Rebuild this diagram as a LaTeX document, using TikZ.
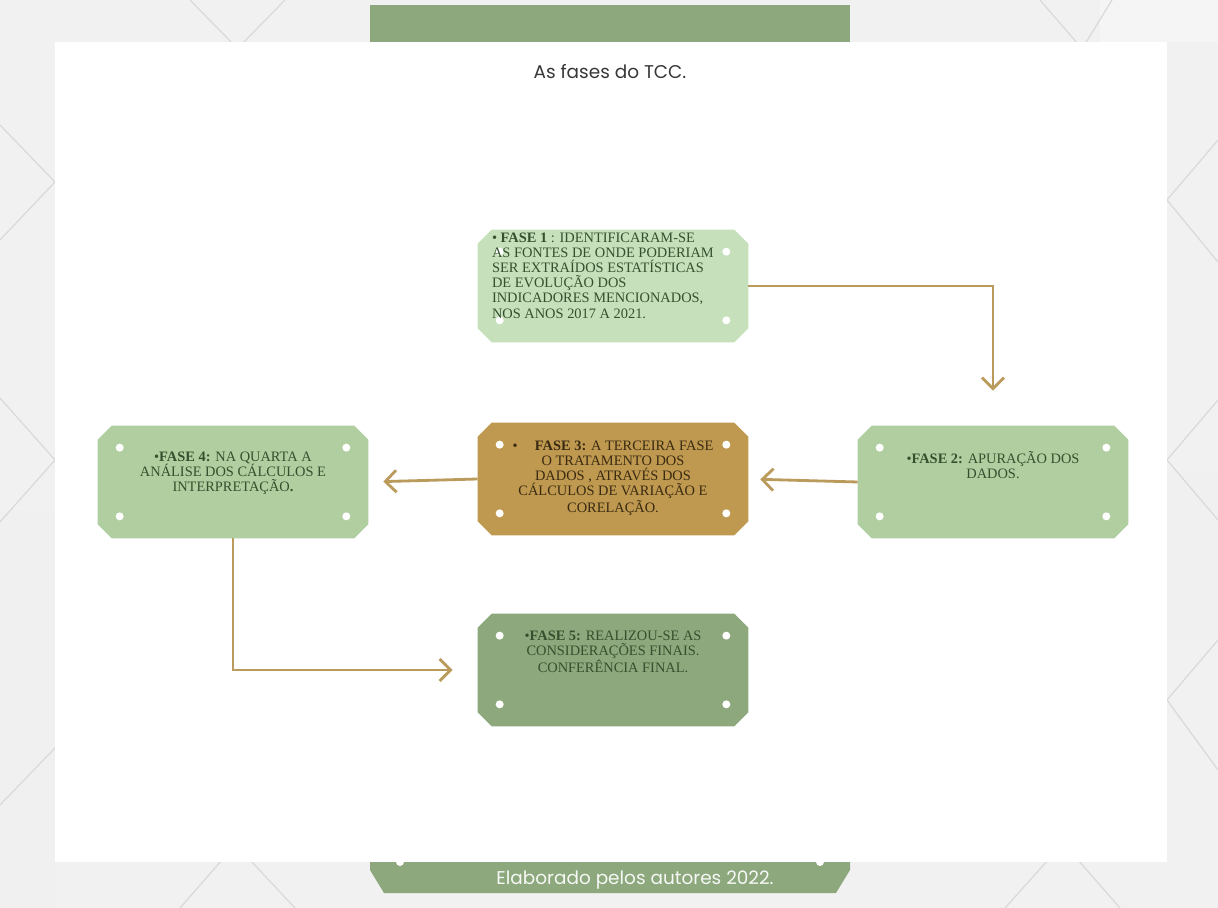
\documentclass[tikz,border=0pt]{standalone}
\usepackage{fontspec}
\setmainfont{Liberation Serif}
\newfontfamily\popfont{Poppins}
\usepackage{tikz}
\usetikzlibrary{arrows.meta,positioning,calc}
\definecolor{bggray}{HTML}{F1F1F1}
\definecolor{bandgreen}{HTML}{8CA87C}
\definecolor{faseone}{HTML}{C5E0BA}
\definecolor{fasemid}{HTML}{B0CE9F}
\definecolor{fasegold}{HTML}{BF994F}
\definecolor{fasedark}{HTML}{8DA87C}
\definecolor{flowcol}{HTML}{BA9B5C}
\definecolor{txtgreen}{HTML}{34502E}
\definecolor{txtbrown}{HTML}{3A2A12}
\newcommand{\fasefont}{\fontsize{8.2}{8.6}\selectfont}

\begin{document}
\begin{tikzpicture}[
    x=0.02cm, y=-0.02cm,
    >={Straight Barb[length=0.22cm,width=0.44cm]},
    ticket/.style={rectangle, minimum width=5.4cm, minimum height=2.24cm, inner sep=0pt},
    fasetxt/.style={font=\fasefont, text=txtgreen, align=center, inner sep=0pt},
    flow/.style={->, draw=flowcol, line width=1.6pt},
    bgline/.style={draw=gray!30, line width=0.7pt}
]
    \useasboundingbox (0,0) rectangle (1218,908);
    \fill[bggray] (0,0) rectangle (1218,908);
    \fill[gray!12] (0,510) rectangle (55,908);
    \fill[gray!12] (1167,470) rectangle (1218,640);
    \fill[gray!8] (1100,0) rectangle (1218,42);
    \draw[bgline] (190,0) -- (233,44) (285,0) -- (242,44);
    \draw[bgline] (1040,0) -- (1078,44) (1112,0) -- (1085,44);
    \draw[bgline] (0,125) -- (55,182) -- (0,240);
    \draw[bgline] (0,398) -- (55,460) -- (0,522);
    \draw[bgline] (0,805) -- (55,748);
    \draw[bgline] (1218,140) -- (1167,200) -- (1218,262);
    \draw[bgline] (1218,400) -- (1167,460) -- (1218,520);
    \draw[bgline] (1218,640) -- (1167,700) -- (1218,770);
    \draw[bgline] (180,908) -- (222,860) (250,860) -- (295,908);
    \draw[bgline] (1005,908) -- (1048,860) (1078,860) -- (1120,908);

    \fill[bandgreen] (370,5) rectangle (850,45);
    \fill[bandgreen] (370,855) -- (850,855) -- (850,870) -- (836,893)
        -- (384,893) -- (370,870) -- cycle;
    \fill[white] (400,862) circle (4) (820,862) circle (4);
    \fill[white] (55,42) rectangle (1167,862);

    \node[font=\popfont\fontsize{10.5}{12}\selectfont, text=black!78] (title) at (610,72) {As fases do TCC.};
    \node[font=\popfont\fontsize{10.5}{12}\selectfont, text=white!92!bandgreen] (credit) at (635,880) {Elaborado pelos autores 2022.};

    \node[ticket] (f1) at (613,286) {};
    \node[ticket] (f2) at (993,482) {};
    \node[ticket] (f3) at (613,479) {};
    \node[ticket] (f4) at (233,482) {};
    \node[ticket] (f5) at (613,670) {};

    \foreach \b/\c in {f1/faseone,f2/fasemid,f3/fasegold,f4/fasemid,f5/fasedark} {
        \fill[\c] ($(\b.north west)+(14,0)$) -- ($(\b.north east)+(-14,0)$)
            -- ($(\b.north east)+(0,14)$) -- ($(\b.south east)+(0,-14)$)
            -- ($(\b.south east)+(-14,0)$) -- ($(\b.south west)+(14,0)$)
            -- ($(\b.south west)+(0,-14)$) -- ($(\b.north west)+(0,14)$) -- cycle;
        \fill[white] ($(\b.north west)+(22,22)$) circle (4)
                     ($(\b.north east)+(-22,22)$) circle (4)
                     ($(\b.south west)+(22,-22)$) circle (4)
                     ($(\b.south east)+(-22,-22)$) circle (4);
    }

    \node[fasetxt, align=left, anchor=north west] (f1t) at ($(f1.north west)+(14,3)$)
        {\textbullet{} \textbf{FASE 1} : IDENTIFICARAM-SE\\AS FONTES DE ONDE PODERIAM\\SER EXTRAÍDOS ESTATÍSTICAS\\DE EVOLUÇÃO DOS\\INDICADORES MENCIONADOS,\\NOS ANOS 2017 A 2021.};
    \node[fasetxt] (f2t) at ($(f2.center)+(0,-17)$)
        {\textbullet\textbf{FASE 2:} APURAÇÃO DOS\\DADOS.};
    \node[fasetxt, text=txtbrown] (f3t) at ($(f3.center)+(0,-1)$)
        {\textbullet\hspace{1.2em}\textbf{FASE 3:} A TERCEIRA FASE\\O TRATAMENTO DOS\\DADOS , ATRAVÉS DOS\\CÁLCULOS DE VARIAÇÃO E\\CORELAÇÃO.};
    \node[fasetxt] (f4t) at ($(f4.center)+(0,-9)$)
        {\textbullet\textbf{FASE 4:} NA QUARTA A\\ANÁLISE DOS CÁLCULOS E\\INTERPRETAÇÃO\textbf{.}};
    \node[fasetxt] (f5t) at ($(f5.center)+(0,-18)$)
        {\textbullet\textbf{FASE 5:} REALIZOU-SE AS\\CONSIDERAÇÕES FINAIS.\\CONFERÊNCIA FINAL.};

    \draw[flow, shorten >=0.7cm] (f1.east) -| (f2.north);
    \draw[flow, shorten >=0.24cm] (f2.west) -- (f3.east);
    \draw[flow, shorten >=0.3cm] (f3.west) -- (f4.east);
    \draw[flow, shorten >=0.5cm] (f4.south) |- (f5.west);
\end{tikzpicture}
\end{document}
